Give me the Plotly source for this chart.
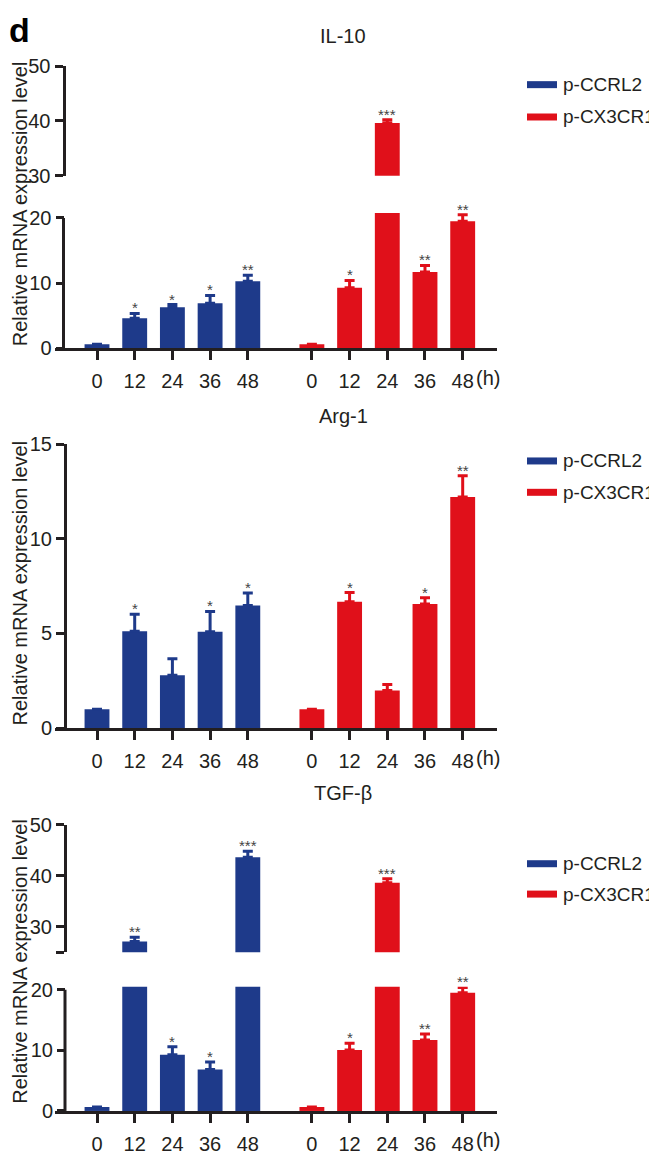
import plotly.graph_objects as go

# ---------------- data ----------------
timepoints = ["0", "12", "24", "36", "48"]
groups = ["p-CCRL2", "p-CX3CR1"]

il10_ccrl2 = [0.6, 4.6, 6.3, 6.9, 10.3]
il10_ccrl2_err = [0, 0.75, 0.4, 1.2, 0.9]
il10_ccrl2_sig = ["", "*", "*", "*", "**"]
il10_cx3cr1 = [0.6, 9.3, 39.6, 11.7, 19.5]
il10_cx3cr1_err = [0, 1.1, 0.6, 1.0, 1.0]
il10_cx3cr1_sig = ["", "*", "***", "**", "**"]

arg1_ccrl2 = [1.0, 5.12, 2.79, 5.09, 6.47]
arg1_ccrl2_err = [0, 0.9, 0.88, 1.07, 0.67]
arg1_ccrl2_sig = ["", "*", "", "*", "*"]
arg1_cx3cr1 = [1.0, 6.67, 1.99, 6.55, 12.2]
arg1_cx3cr1_err = [0, 0.49, 0.31, 0.33, 1.13]
arg1_cx3cr1_sig = ["", "*", "", "*", "**"]

tgf_ccrl2 = [0.65, 27.1, 9.27, 6.84, 43.6]
tgf_ccrl2_err = [0, 0.85, 1.35, 1.25, 1.15]
tgf_ccrl2_sig = ["", "**", "*", "*", "***"]
tgf_cx3cr1 = [0.65, 10.08, 38.6, 11.7, 19.5]
tgf_cx3cr1_err = [0, 1.1, 0.8, 1.0, 0.9]
tgf_cx3cr1_sig = ["", "*", "***", "**", "**"]

# ---------------- style ----------------
# the page body has an 8px default margin, so the figure is sized to
# fill the remaining window and all positions below are window pixels
OFF = 8
W, H = 657 - OFF, 1155 - OFF
BLUE = "#1e3a8a"
RED = "#e0101a"
INK = "#231f20"
FONT = "Arial, Liberation Sans, sans-serif"
FS = 20
LEG_FS = 19

pos_blue = [0, 1, 2, 3, 4]
pos_red = [5.7, 6.7, 7.7, 8.7, 9.7]
x_positions = pos_blue + pos_red
x_ticktext = timepoints + timepoints
XRANGE = [-1.114, 10.61]
BAR_W = 0.66


def px_x(p):
    return (p - OFF) / W


def px_y(p):
    return 1 - (p - OFF) / H


fig = go.Figure()
annotations = []
shapes = []

panels = [
    dict(
        title="IL-10",
        blue=(il10_ccrl2, il10_ccrl2_err, il10_ccrl2_sig),
        red=(il10_cx3cr1, il10_cx3cr1_err, il10_cx3cr1_sig),
        x="x", lower="y", upper="y2",
        zero_px=344, low_top_px=206, low_range=[0, 20.75], low_ticks=[0, 10, 20],
        up_bot_px=168, up_top_px=56, up_range=[30, 50], up_ticks=[30, 40, 50], up_text=["30", "40", "50"],
        yaxis_px=63.5, title_px=25, legend_px=[75, 108], ylabel_px=197,
    ),
    dict(
        title="Arg-1",
        blue=(arg1_ccrl2, arg1_ccrl2_err, arg1_ccrl2_sig),
        red=(arg1_cx3cr1, arg1_cx3cr1_err, arg1_cx3cr1_sig),
        x="x2", lower="y3", upper=None,
        zero_px=731.7, low_top_px=441.7, low_range=[0, 15], low_ticks=[0, 5, 10, 15],
        yaxis_px=65, title_px=413, legend_px=[459, 491], ylabel_px=584,
    ),
    dict(
        title="TGF-β",
        blue=(tgf_ccrl2, tgf_ccrl2_err, tgf_ccrl2_sig),
        red=(tgf_cx3cr1, tgf_cx3cr1_err, tgf_cx3cr1_sig),
        x="x3", lower="y4", upper="y5",
        zero_px=1122.3, low_top_px=995.6, low_range=[0, 20.5], low_ticks=[0, 10, 20],
        up_bot_px=960.4, up_top_px=830, up_range=[25, 50], up_ticks=[25, 30, 40, 50], up_text=["", "30", "40", "50"],
        yaxis_px=65, title_px=798, legend_px=[870, 901], ylabel_px=970,
    ),
]

layout_axes = {}

for i, p in enumerate(panels):
    xa = p["x"]
    xname = "xaxis" if xa == "x" else "xaxis" + xa[1:]
    axes_list = [p["lower"]] + ([p["upper"]] if p["upper"] else [])
    for ya in axes_list:
        for (vals, errs, sig), pos, col, name in ((p["blue"], pos_blue, BLUE, groups[0]),
                                                  (p["red"], pos_red, RED, groups[1])):
            fig.add_trace(go.Bar(
                x=pos, y=vals, width=BAR_W, xaxis=xa, yaxis=ya, name=name,
                marker=dict(color=col, line=dict(width=0)),
                error_y=dict(type="data", symmetric=False, array=errs,
                             arrayminus=[0] * len(errs), color=col,
                             thickness=3, width=5),
                showlegend=False, hoverinfo="skip",
            ))
    # significance marks
    for (vals, errs, sig), pos in ((p["blue"], pos_blue), (p["red"], pos_red)):
        for xv, v, e, s in zip(pos, vals, errs, sig):
            if not s:
                continue
            top = v + e
            ya = p["lower"] if top <= p["low_range"][1] else p["upper"]
            annotations.append(dict(
                x=xv, y=top, xref=xa, yref=ya, text=s, showarrow=False,
                xanchor="center", yanchor="bottom", yshift=-5,
                font=dict(family=FONT, size=15, color="#444444"),
            ))
    # legend (swatch + label)
    for name, col, ly in zip(groups, (BLUE, RED), p["legend_px"]):
        shapes.append(dict(
            type="line", xref="paper", yref="paper",
            x0=px_x(527), x1=px_x(557), y0=px_y(ly), y1=px_y(ly),
            line=dict(color=col, width=7),
        ))
        annotations.append(dict(
            x=px_x(561), y=px_y(ly), xref="paper", yref="paper", text=name,
            showarrow=False, xanchor="left", yanchor="middle",
            font=dict(family=FONT, size=LEG_FS, color=INK),
        ))

    # x axis
    layout_axes[xname] = dict(
        domain=[px_x(55), px_x(497)], range=XRANGE, anchor=p["lower"],
        tickmode="array", tickvals=x_positions, ticktext=x_ticktext,
        showline=True, linewidth=3, linecolor=INK,
        ticks="outside", ticklen=9, tickwidth=3, tickcolor=INK,
        ticklabelstandoff=4,
        tickfont=dict(family=FONT, size=FS, color=INK),
        showgrid=False, zeroline=False, fixedrange=True,
    )
    # lower y axis
    lname = "yaxis" if p["lower"] == "y" else "yaxis" + p["lower"][1:]
    has_upper = p["upper"] is not None
    layout_axes[lname] = dict(
        domain=[px_y(p["zero_px"]), px_y(p["low_top_px"])], range=p["low_range"],
        anchor="free", position=px_x(p["yaxis_px"]),
        tickmode="array", tickvals=p["low_ticks"],
        showline=not has_upper, linewidth=3, linecolor=INK,
        ticks="outside", ticklen=8, tickwidth=3, tickcolor=INK,
        tickfont=dict(family=FONT, size=FS, color=INK),
        showgrid=False, zeroline=False, fixedrange=True,
    )
    if has_upper:
        shapes.append(dict(
            type="line", xref="paper", yref=p["lower"],
            x0=px_x(p["yaxis_px"]), x1=px_x(p["yaxis_px"]),
            y0=0, y1=p["low_ticks"][-1],
            line=dict(color=INK, width=3),
        ))
        uname = "yaxis" + p["upper"][1:]
        layout_axes[uname] = dict(
            domain=[px_y(p["up_bot_px"]), px_y(p["up_top_px"])], range=p["up_range"],
            anchor="free", position=px_x(p["yaxis_px"]),
            tickmode="array", tickvals=p["up_ticks"], ticktext=p["up_text"],
            showline=True, linewidth=3, linecolor=INK,
            ticks="outside", ticklen=8, tickwidth=3, tickcolor=INK,
            tickfont=dict(family=FONT, size=FS, color=INK),
            showgrid=False, zeroline=False, fixedrange=True,
        )

    # panel title
    annotations.append(dict(
        x=px_x(343), y=px_y(p["title_px"]), xref="paper", yref="paper",
        text=p["title"], showarrow=False, xanchor="center", yanchor="middle",
        font=dict(family=FONT, size=FS, color=INK),
    ))
    # y-axis title
    annotations.append(dict(
        x=0, y=px_y(p["ylabel_px"]), xref="paper", yref="paper",
        text="Relative mRNA expression level", textangle=-90, showarrow=False,
        xanchor="left", yanchor="middle", borderpad=0,
        font=dict(family=FONT, size=FS, color=INK),
    ))
    # unit suffix after last tick label
    annotations.append(dict(
        x=pos_red[-1], y=px_y(p["zero_px"] + 30), xref=xa, yref="paper",
        text="(h)", showarrow=False, xanchor="left", yanchor="middle", xshift=11,
        font=dict(family=FONT, size=FS, color=INK),
    ))

# panel letter
annotations.append(dict(
    x=0, y=1, xref="paper", yref="paper", text="<b>d</b>", showarrow=False,
    xanchor="left", yanchor="top", yshift=10, xshift=-1,
    font=dict(family=FONT, size=34, color="#000000"),
))

fig.update_layout(
    width=W, height=H, margin=dict(l=0, r=0, t=0, b=0),
    paper_bgcolor="white", plot_bgcolor="white", showlegend=False,
    barmode="overlay", annotations=annotations, shapes=shapes,
    **layout_axes,
)

fig.write_html("out.html")
